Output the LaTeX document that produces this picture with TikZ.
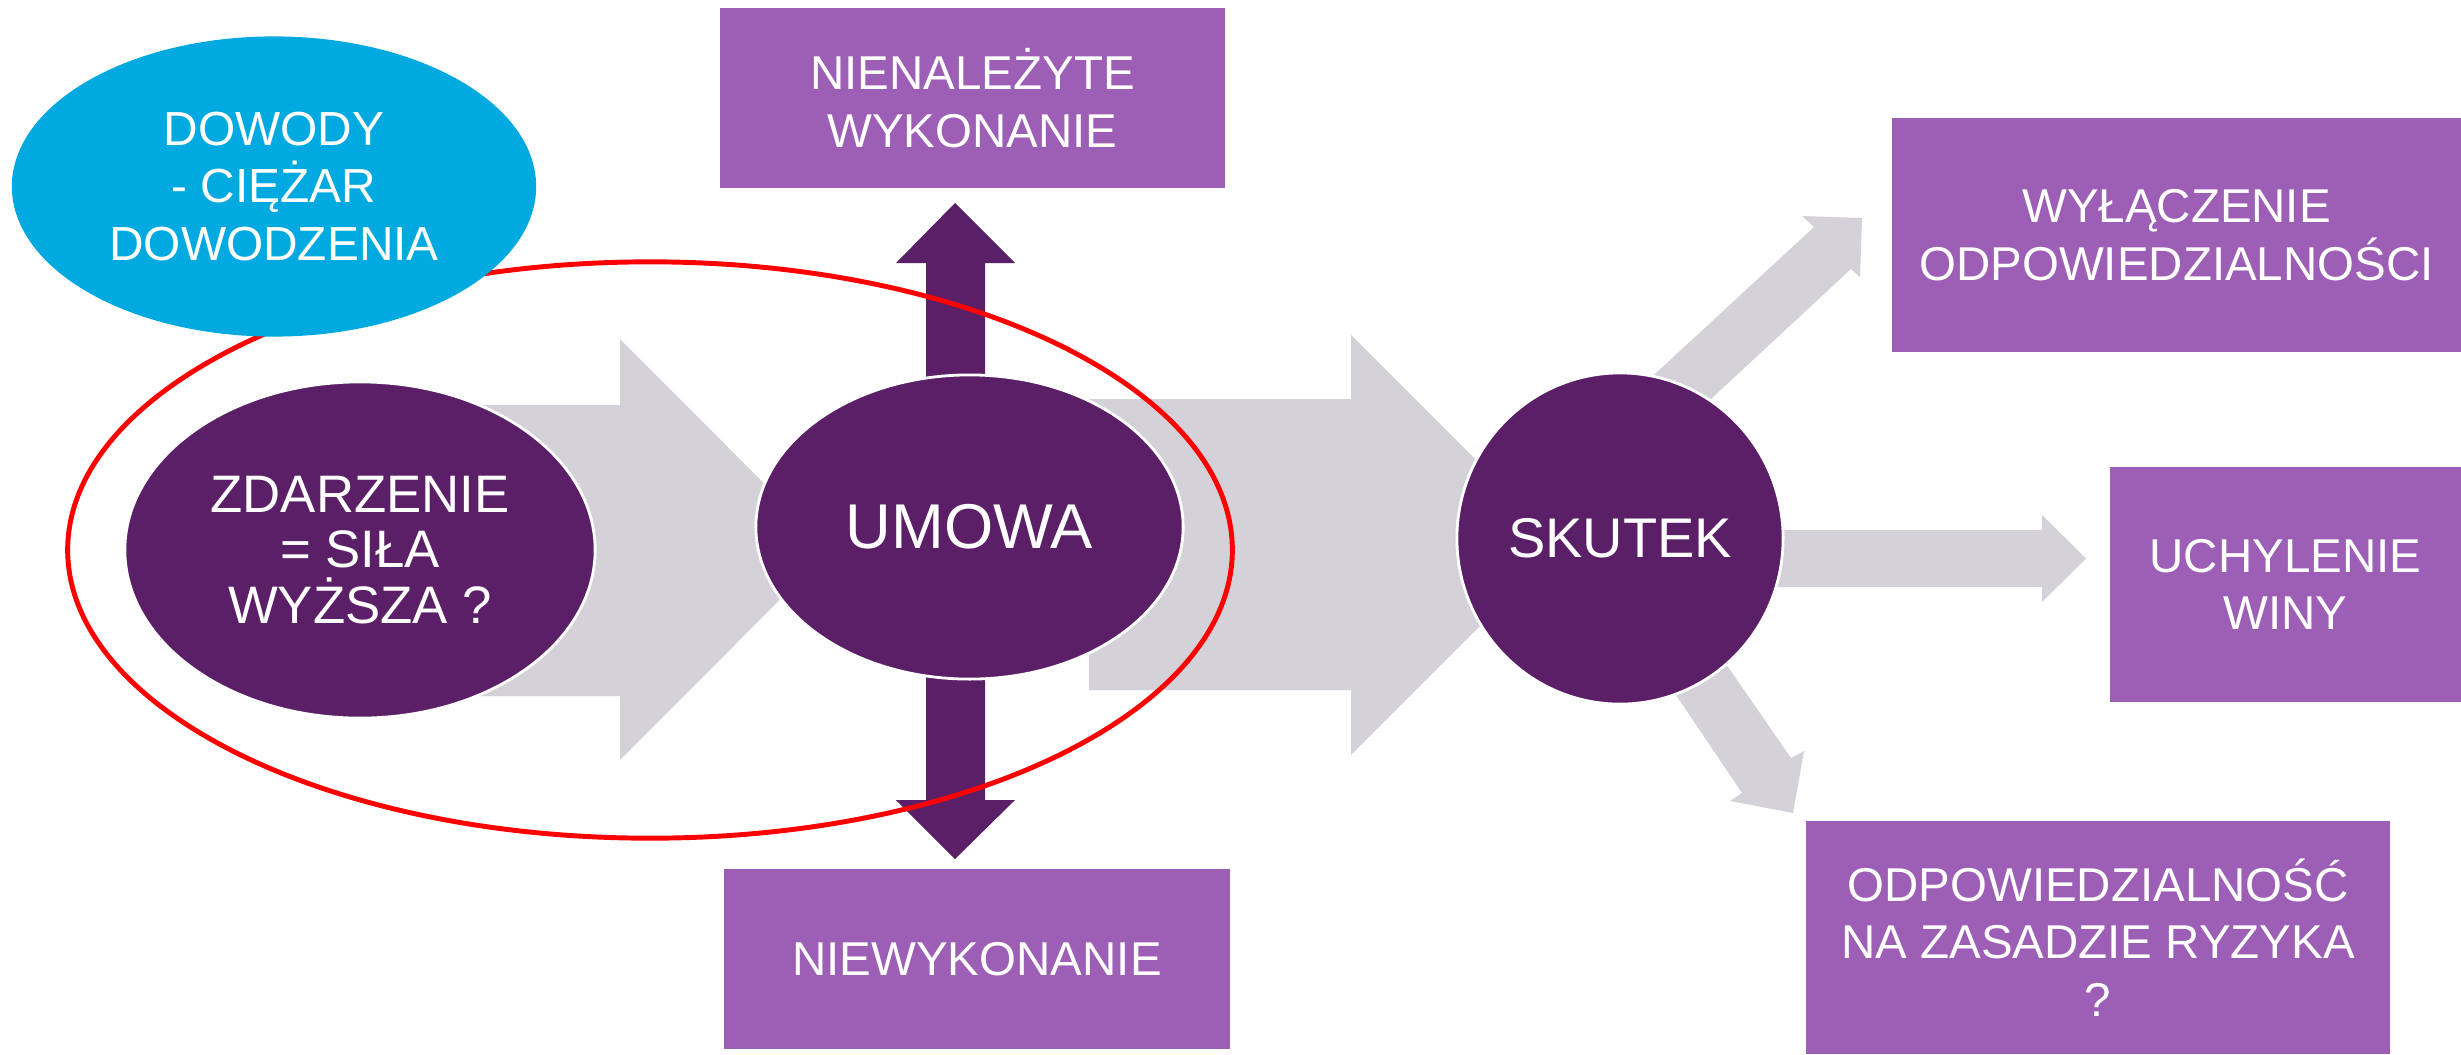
\documentclass[tikz,border=0pt]{standalone}
\usepackage{fontspec}
\setmainfont{Liberation Sans}
\usetikzlibrary{shapes.geometric}
\definecolor{darkpurple}{HTML}{5B1F67}
\definecolor{lightpurple}{HTML}{9C5FB5}
\definecolor{skyblue}{HTML}{00A9DF}
\definecolor{arrowgray}{HTML}{D5D1D9}
\definecolor{ringred}{HTML}{FF0000}
\begin{document}
\begin{tikzpicture}[x=0.01cm,y=-0.01cm,
  purpleoval/.style={ellipse, fill=darkpurple, draw=white, line width=0.8pt, text=white, align=center, inner sep=0pt},
  labelbox/.style={rectangle, fill=lightpurple, text=white, align=center, inner sep=0pt, font=\fontsize{13.5}{16.4}\selectfont},
  blockarrow/.style={fill=arrowgray},
  vertarrow/.style={fill=darkpurple}
  ]
\useasboundingbox (0,0) rectangle (2461,1054);

% grey block arrows (behind the ovals)
\fill[blockarrow] (480,405) -- (620,405) -- (620,339) -- (830,549.5) -- (620,760) -- (620,696) -- (480,696) -- cycle;
\fill[blockarrow] (1089,399) -- (1351,399) -- (1351,335) -- (1561,545) -- (1351,755) -- (1351,690) -- (1089,690) -- cycle;
% arrows out of SKUTEK
\fill[blockarrow] (1636,391.5) -- (1814,227) -- (1802,216) -- (1862,218) -- (1860,277) -- (1851,269) -- (1691,417.5) -- cycle;
\fill[blockarrow] (1700,530) -- (2042,530) -- (2042,515) -- (2086,558.5) -- (2042,602) -- (2042,587) -- (1700,587) -- cycle;
\fill[blockarrow] (1656.5,666) -- (1742,793) -- (1730,801) -- (1793,813) -- (1804,751) -- (1791,758) -- (1706.5,636) -- cycle;

% vertical double arrow behind UMOWA
\fill[vertarrow] (926,263) -- (896,263) -- (955,203) -- (1015,263) -- (985,263) -- (985,800) -- (1015,800) -- (955,859) -- (896,800) -- (926,800) -- cycle;

% ovals
\node[purpleoval, minimum width=4.70cm, minimum height=3.36cm, font=\fontsize{15}{15.7}\selectfont] (zdarzenie) at (360,550) {ZDARZENIE\\= SIŁA\\WYŻSZA ?};
\node[purpleoval, minimum width=4.27cm, minimum height=3.04cm, font=\fontsize{18}{21}\selectfont] (umowa) at (969.5,527) {UMOWA};
\node[purpleoval, minimum width=3.26cm, minimum height=3.31cm, font=\fontsize{15.9}{19}\selectfont] (skutek) at (1620,538.5) {SKUTEK};

% red ring
\node[ellipse, draw=ringred, line width=1.4pt, minimum width=11.64cm, minimum height=5.76cm, inner sep=0pt] (ring) at (650,550) {};

% blue oval
\node[ellipse, fill=skyblue, text=white, align=center, inner sep=0pt, minimum width=5.24cm, minimum height=3.00cm, font=\fontsize{13.6}{16.4}\selectfont] (dowody) at (274,186.5) {DOWODY\\- CIĘŻAR\\DOWODZENIA};

% boxes
\node[labelbox, minimum width=5.05cm, minimum height=1.80cm] (nienalezyte) at (972.5,98) {NIENALEŻYTE\\WYKONANIE};
\node[labelbox, minimum width=5.06cm, minimum height=1.80cm] (niewykonanie) at (977,959) {NIEWYKONANIE};
\node[labelbox, minimum width=5.69cm, minimum height=2.34cm] (wylaczenie) at (2176.5,235) {WYŁĄCZENIE\\ODPOWIEDZIALNOŚCI};
\node[labelbox, minimum width=3.51cm, minimum height=2.35cm] (uchylenie) at (2285.5,584.5) {UCHYLENIE\\WINY};
\node[labelbox, minimum width=5.84cm, minimum height=2.33cm] (ryzyko) at (2098,937.5) {ODPOWIEDZIALNOŚĆ\\NA ZASADZIE RYZYKA\\?};
\end{tikzpicture}
\end{document}
